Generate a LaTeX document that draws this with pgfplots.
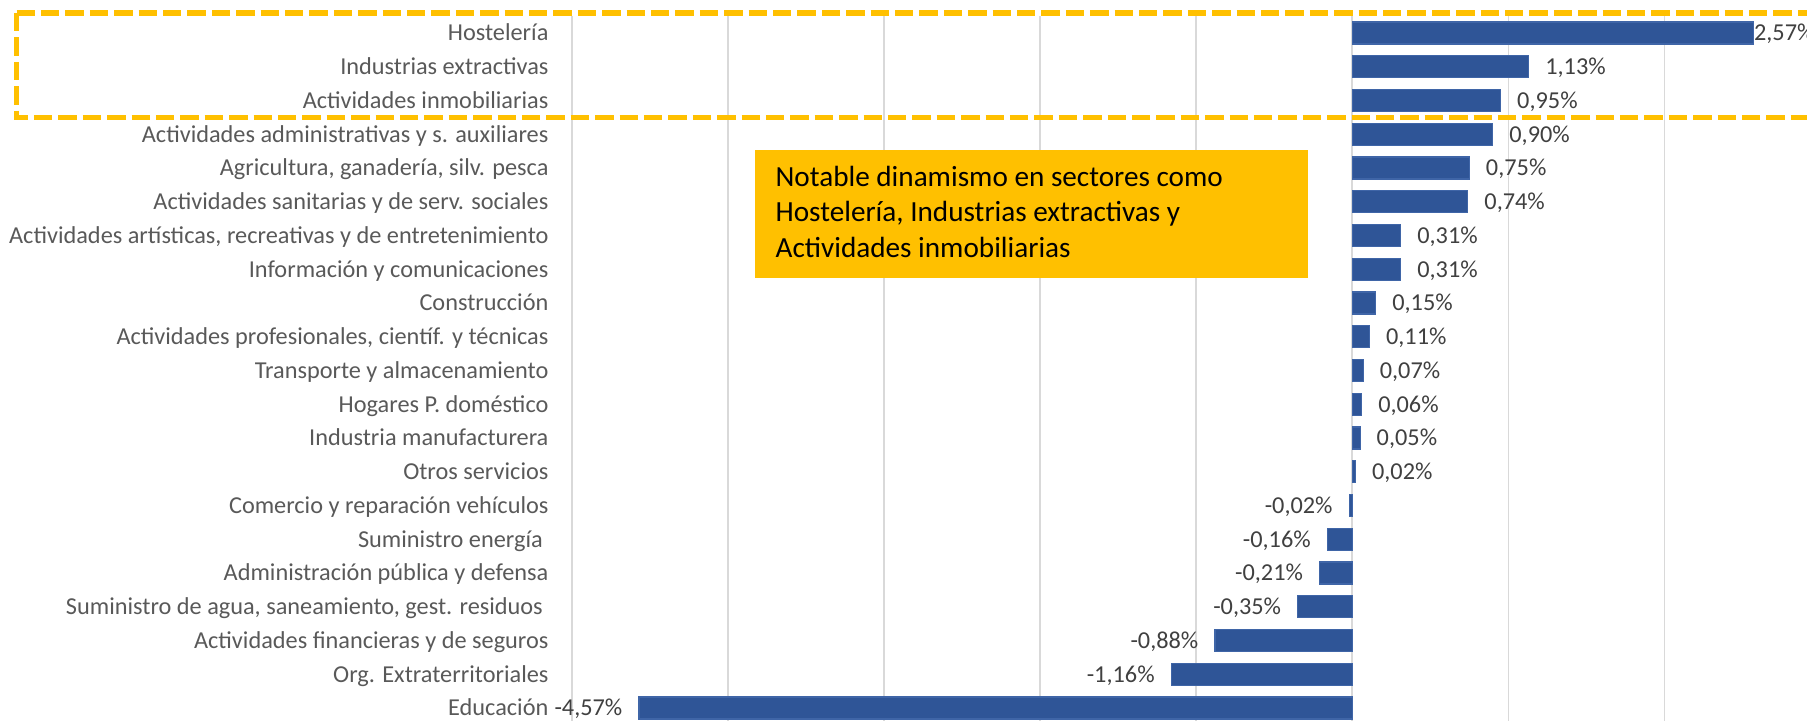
\documentclass[border=0pt]{standalone}
\usepackage{pgfplots}
\pgfplotsset{compat=1.18}
\usepackage{fontspec}
\setmainfont{Carlito}
\definecolor{barblue}{HTML}{2F5597}
\definecolor{barline}{HTML}{3F65A7}
\definecolor{gridgray}{HTML}{D9D9D9}
\definecolor{labgray}{HTML}{595959}
\definecolor{datgray}{HTML}{404040}
\definecolor{boxyellow}{HTML}{FFC000}
\begin{document}
\begin{tikzpicture}
\path[use as bounding box] (0,0) rectangle (903.5pt,360.5pt);
\begin{axis}[
  anchor=origin, at={(676.15pt,6.5pt)},
  x=78.05pt, y=16.875pt,
  xmin=-5, xmax=2.913, ymin=-0.5, ymax=20.5,
  clip=false,
  axis line style={draw=none},
  major tick length=0pt,
  xtick={-5,-4,-3,-2,-1,0,1,2}, xticklabels={},
  xmajorgrids, grid style={gridgray, line width=0.9pt},
  ytick={0,...,20},
  yticklabels={Educación, Org. Extraterritoriales, Actividades financieras y de seguros,
    {Suministro de agua, saneamiento, gest. residuos\kern0.23em}, Administración pública y defensa,
    Suministro energía\kern0.23em, Comercio y reparación vehículos, Otros servicios,
    Industria manufacturera, Hogares P. doméstico, Transporte y almacenamiento,
    {Actividades profesionales, científ. y técnicas}, Construcción, Información y comunicaciones,
    {Actividades artísticas, recreativas y de entretenimiento}, Actividades sanitarias y de serv. sociales,
    {Agricultura, ganadería, silv. pesca}, Actividades administrativas y s. auxiliares,
    Actividades inmobiliarias, Industrias extractivas, Hostelería},
  yticklabel style={font=\fontsize{12.15}{14}\selectfont, text=labgray, anchor=east,
    inner sep=0pt, xshift=-11.5pt, text height=7.8pt, text depth=0pt},
  bars/.style={xbar, bar width=11pt, bar shift=0pt, fill=barblue, draw=barline, line width=0.6pt},
  point meta=explicit symbolic,
  nodes near coords,
  every node near coord/.append style={font=\fontsize{12.15}{14}\selectfont, text=datgray,
    inner sep=0pt, text height=7.8pt, text depth=0pt},
]
% Hostelería (label at bar end)
\addplot[bars, nodes near coords style={anchor=west, xshift=0pt}] coordinates {(2.57,20) [2,57\%]};
% positive values
\addplot[bars, nodes near coords style={anchor=west, xshift=8pt}] coordinates {
(1.13,19) [1,13\%]
(0.95,18) [0,95\%]
(0.90,17) [0,90\%]
(0.75,16) [0,75\%]
(0.74,15) [0,74\%]
(0.31,14) [0,31\%]
(0.31,13) [0,31\%]
(0.15,12) [0,15\%]
(0.11,11) [0,11\%]
(0.07,10) [0,07\%]
(0.06,9) [0,06\%]
(0.05,8) [0,05\%]
(0.02,7) [0,02\%]
};
% negative values
\addplot[bars, nodes near coords style={anchor=east, xshift=-8pt}] coordinates {
(-0.02,6) [-0,02\%]
(-0.16,5) [-0,16\%]
(-0.21,4) [-0,21\%]
(-0.35,3) [-0,35\%]
(-0.88,2) [-0,88\%]
(-1.16,1) [-1,16\%]
(-4.57,0) [-4,57\%]
};
\end{axis}
% highlight rectangle
\begin{scope}[boxyellow, line width=2.8pt, dash pattern=on 9.2pt off 3pt]
\draw (8.3pt,354pt) -- (915pt,354pt);
\draw (8.3pt,354pt) -- (8.3pt,301.65pt) -- (915pt,301.65pt);
\end{scope}
% annotation box
\fill[boxyellow] (377.4pt,221.65pt) rectangle (654pt,285.6pt);
\begin{scope}[every node/.style={anchor=base west, inner sep=0pt, font=\fontsize{14.6}{17}\selectfont, text=black}]
\node at (387.6pt,267.15pt) {Notable dinamismo en sectores como};
\node at (387.6pt,249.5pt) {Hostelería, Industrias extractivas y};
\node at (387.6pt,231.85pt) {Actividades inmobiliarias};
\end{scope}
\end{tikzpicture}
\end{document}
